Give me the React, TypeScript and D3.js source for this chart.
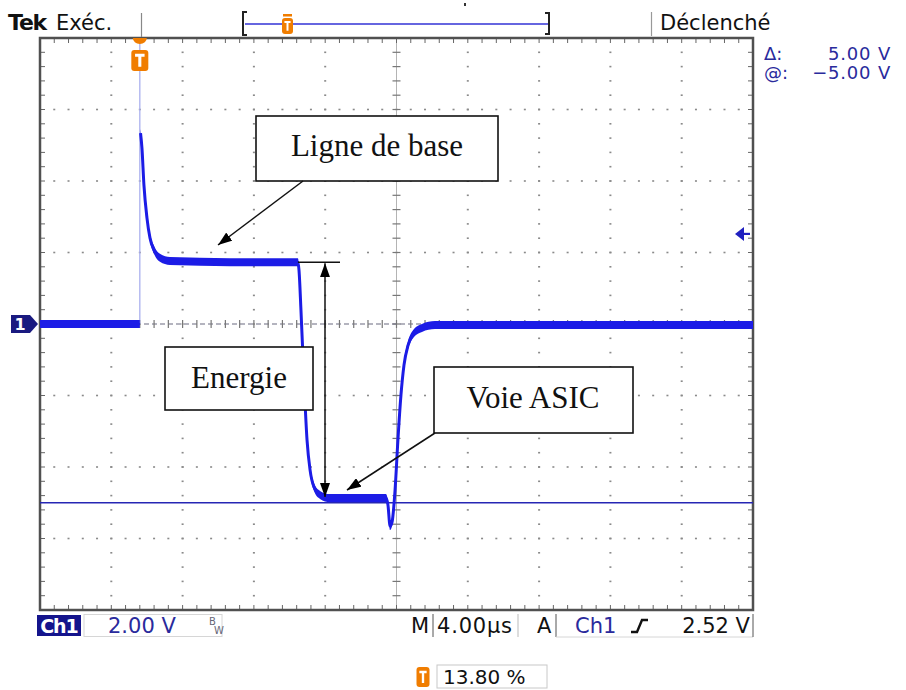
import React from "react";
import * as d3 from "d3";

// ---- data ----
const timeDomain = [0, 40]; // µs, 4 µs/div x 10 div
const voltDomain = [-8, 8]; // V, 2 V/div x 8 div
const triggerTime = 5.6;
const triggerLevel = 2.52;
const cursorVolts = -5.0;

const preTime = [0, 5.6];
const preVolts = [0, 0];

const pulseTime = [5.64, 5.72, 5.83, 6.0, 6.17, 6.4, 6.73, 7.29, 10.66, 14.47, 14.53, 14.64, 14.81, 14.98, 15.15, 15.37, 15.71, 16.27, 19.41, 19.52, 19.64, 19.75, 19.92, 20.08, 20.25, 20.42, 20.65, 20.98, 21.43, 22.16, 30, 40];
const pulseVolts = [5.34, 4.92, 3.89, 2.97, 2.41, 2.07, 1.85, 1.76, 1.73, 1.73, 1.51, 0.39, -1.57, -3.24, -4.08, -4.56, -4.78, -4.87, -4.87, -5.06, -5.65, -5.54, -4.64, -3.24, -1.99, -1.15, -0.59, -0.25, -0.11, -0.03, -0.03, -0.03];

const annotations = ["Ligne de base", "Energie", "Voie ASIC"];

// ---- layout ----
const W = 906, H = 690;
const L = 40, R = 753, T = 38, B = 610;
const TRACE = "#1c1ce6";
const DBLUE = "#2a2a9c";
const ORANGE = "#f07d00";
const SANS = "'DejaVu Sans', sans-serif";
const SERIF = "'Liberation Serif', 'Times New Roman', serif";

const x = d3.scaleLinear().domain(timeDomain).range([L, R]);
const y = d3.scaleLinear().domain(voltDomain).range([B, T]);

const xMinor = d3.range(0, 40.001, 0.8);
const yMinor = d3.range(-8, 8.001, 0.4);
const xMajor = d3.range(4, 37, 4);
const yMajor = d3.range(-6, 7, 2);

const zip = (ts: number[], vs: number[]) => ts.map((t, i) => [t, vs[i]] as [number, number]);
const pre = zip(preTime, preVolts);
const pulse = zip(pulseTime, pulseVolts);

const line = d3.line<[number, number]>().x(d => x(d[0])).y(d => y(d[1])).curve(d3.curveMonotoneX);
const band = d3.area<[number, number]>().x(d => x(d[0])).y0(d => y(d[1]) - 4).y1(d => y(d[1]) + 4).curve(d3.curveMonotoneX);

function TMarker({ cx, top, w = 16, h = 21 }: { cx: number; top: number; w?: number; h?: number }) {
  return (
    <g>
      <rect x={cx - w / 2} y={top} width={w} height={h} rx={3} fill={ORANGE} />
      <path d={`M${cx - w * 0.28},${top + h * 0.25} h${w * 0.56} M${cx},${top + h * 0.25} v${h * 0.55}`} stroke="#fff" strokeWidth={w * 0.18} fill="none" />
    </g>
  );
}

export default function App() {
  const zeroY = y(0);
  const tl = y(triggerLevel);
  return (
    <svg width={W} height={H} style={{ position: "absolute", left: 0, top: 0, background: "#fff" }}>
      <defs>
        <marker id="ah" viewBox="0 0 14 10" refX="14" refY="5" markerWidth="14" markerHeight="10" markerUnits="userSpaceOnUse" orient="auto-start-reverse">
          <path d="M0,0 L14,5 L0,10 Z" fill="#000" />
        </marker>
      </defs>
      <rect x={0} y={0} width={W} height={H} fill="#fff" />

      {/* graticule dots */}
      {xMajor.filter(v => v !== 20).map(v => (
        <g key={"vx" + v}>
          {yMinor.map(u => <rect key={u} x={x(v) - 1} y={y(u) - 0.8} width={2} height={1.6} fill="#8a8a8a" />)}
        </g>
      ))}
      {yMajor.filter(v => v !== 0).map(v => (
        <g key={"hy" + v}>
          {xMinor.map(u => <rect key={u} x={x(u) - 1} y={y(v) - 0.8} width={2} height={1.6} fill="#8a8a8a" />)}
        </g>
      ))}
      {/* center axes */}
      <line x1={x(20)} x2={x(20)} y1={T} y2={B} stroke="#b4b4b4" strokeWidth={1} />
      {yMinor.map(u => <line key={"cy" + u} x1={x(20) - 4} x2={x(20) + 4} y1={y(u)} y2={y(u)} stroke="#777" strokeWidth={1.2} />)}
      <line x1={L} x2={R} y1={zeroY} y2={zeroY} stroke="#6a6a80" strokeWidth={1.2} strokeDasharray="5,3" />
      {xMinor.map(u => <line key={"cx" + u} x1={x(u)} x2={x(u)} y1={zeroY - 4} y2={zeroY + 4} stroke="#777" strokeWidth={1.2} />)}
      {/* border ticks */}
      {xMinor.map(u => (
        <g key={"bt" + u}>
          <line x1={x(u)} x2={x(u)} y1={T} y2={T + 5} stroke="#666" strokeWidth={1} />
          <line x1={x(u)} x2={x(u)} y1={B - 5} y2={B} stroke="#666" strokeWidth={1} />
        </g>
      ))}
      {yMinor.map(u => (
        <g key={"bl" + u}>
          <line x1={L} x2={L + 5} y1={y(u)} y2={y(u)} stroke="#666" strokeWidth={1} />
          <line x1={R - 5} x2={R} y1={y(u)} y2={y(u)} stroke="#666" strokeWidth={1} />
        </g>
      ))}
      <rect x={L} y={T} width={R - L} height={B - T} fill="none" stroke="#505050" strokeWidth={2.5} />

      {/* cursor line */}
      <line x1={L} x2={R} y1={y(cursorVolts)} y2={y(cursorVolts)} stroke="#2626b4" strokeWidth={1.6} />

      {/* trigger position line (fast edge) */}
      <line x1={x(triggerTime)} x2={x(triggerTime)} y1={T} y2={zeroY} stroke="#aab0ee" strokeWidth={1.3} />

      {/* trace */}
      <path d={band(pre) || ""} fill={TRACE} />
      <path d={line(pre) || ""} fill="none" stroke={TRACE} strokeWidth={2} />
      <path d={band(pulse) || ""} fill={TRACE} />
      <path d={line(pulse) || ""} fill="none" stroke={TRACE} strokeWidth={3} />

      {/* trigger level arrow */}
      <path d={`M${R - 18},${tl} L${R - 9},${tl - 7} L${R - 9},${tl + 7} Z`} fill="#2020c0" />
      <line x1={R - 10} x2={R - 3} y1={tl} y2={tl} stroke="#2020c0" strokeWidth={2.2} />

      {/* ch1 ground marker */}
      <path d={`M11,${zeroY - 9} H30 L38,${zeroY} L30,${zeroY + 9} H11 Z`} fill="#1a1a80" />
      <text x={20} y={zeroY + 6} fill="#fff" fontFamily={SANS} fontWeight="bold" fontSize={16} textAnchor="middle">1</text>

      {/* trigger T marker at top */}
      <path d={`M${x(triggerTime) - 7},${T} A7,6 0 0 0 ${x(triggerTime) + 7},${T} Z`} fill={ORANGE} />
      <TMarker cx={x(triggerTime)} top={T + 12} w={17} h={21} />

      {/* header */}
      <text x={8} y={30} fontFamily={SANS} fontSize={22} fontWeight="bold" fill="#111" letterSpacing={-1.2}>Tek</text>
      <text x={56} y={30} fontFamily={SANS} fontSize={21} fill="#111">Exéc.</text>
      <line x1={141.5} x2={141.5} y1={13} y2={37} stroke="#888" strokeWidth={1.2} />
      <path d="M247,12 H243 V35 H247" fill="none" stroke="#222" strokeWidth={2} />
      <line x1={245} x2={548} y1={24} y2={24} stroke="#6666e0" strokeWidth={2.2} />
      <path d="M545,13 H549 V34 H545" fill="none" stroke="#222" strokeWidth={2} />
      <rect x={283} y={14} width={9} height={2.5} fill={ORANGE} />
      <TMarker cx={287.5} top={18} w={11} h={16} />
      <rect x={464} y={3} width={2} height={3} fill="#333" />
      <line x1={651.5} x2={651.5} y1={12} y2={36} stroke="#999" strokeWidth={1.2} />
      <text x={660} y={30} fontFamily={SANS} fontSize={21} fill="#111">Déclenché</text>

      <text x={764} y={60} fontFamily={SANS} fontSize={18} fill={DBLUE}>Δ:</text>
      <text x={891} y={60} fontFamily={SANS} fontSize={18} fill={DBLUE} textAnchor="end" letterSpacing={0.8}>5.00 V</text>
      <text x={764} y={79} fontFamily={SANS} fontSize={18} fill={DBLUE}>@:</text>
      <text x={891} y={79} fontFamily={SANS} fontSize={18} fill={DBLUE} textAnchor="end" letterSpacing={0.8}>−5.00 V</text>

      {/* status bar */}
      <rect x={37} y={615} width={44} height={21} fill="#14148c" />
      <text x={59} y={633} fontFamily={SANS} fontSize={19} fontWeight="bold" fill="#fff" textAnchor="middle" letterSpacing={-1}>Ch1</text>
      <rect x={84} y={614.5} width={138} height={22} fill="none" stroke="#d6d6d6" strokeWidth={1} />
      <text x={108} y={633} fontFamily={SANS} fontSize={21} fill={DBLUE}>2.00 V</text>
      <text x={209} y={625} fontFamily={SANS} fontSize={10} fill="#667">B</text>
      <text x={214} y={634} fontFamily={SANS} fontSize={10} fill="#667">W</text>
      <text x={411} y={633} fontFamily={SANS} fontSize={21} fill="#111">M</text>
      <line x1={433} x2={433} y1={614} y2={637} stroke="#555" strokeWidth={1} />
      <text x={437} y={633} fontFamily={SANS} fontSize={21} fill="#111" letterSpacing={0.8}>4.00µs</text>
      <line x1={518} x2={518} y1={614} y2={637} stroke="#bbb" strokeWidth={1} />
      <text x={537} y={633} fontFamily={SANS} fontSize={21} fill="#111">A</text>
      <line x1={556} x2={556} y1={614} y2={637} stroke="#555" strokeWidth={1} />
      <line x1={556} x2={753} y1={637} y2={637} stroke="#d6d6d6" strokeWidth={1} />
      <text x={575} y={633} fontFamily={SANS} fontSize={21} fill={DBLUE}>Ch1</text>
      <path d="M631,632 H637 L642,620 H648" fill="none" stroke="#111" strokeWidth={2.4} />
      <text x={750} y={633} fontFamily={SANS} fontSize={21} fill="#111" textAnchor="end">2.52 V</text>
      <line x1={753} x2={753} y1={614} y2={637} stroke="#555" strokeWidth={1} />

      <TMarker cx={423} top={667} w={13} h={20} />
      <rect x={437} y={665} width={110} height={23} fill="none" stroke="#c8c8c8" strokeWidth={1} />
      <text x={443} y={684} fontFamily={SANS} fontSize={20} fill="#111">13.80 %</text>

      {/* annotations */}
      <rect x={256} y={116} width={242} height={65} fill="#fff" stroke="#111" strokeWidth={1.6} />
      <text x={377} y={156} fontFamily={SERIF} fontSize={31} fill="#111" textAnchor="middle">{annotations[0]}</text>
      <line x1={303} x2={218} y1={181} y2={245} stroke="#111" strokeWidth={1.5} markerEnd="url(#ah)" />

      <rect x={165} y={347} width={148} height={63} fill="#fff" stroke="#111" strokeWidth={1.6} />
      <text x={239} y={388} fontFamily={SERIF} fontSize={31} fill="#111" textAnchor="middle">{annotations[1]}</text>

      <rect x={434} y={367} width={199} height={66} fill="#fff" stroke="#111" strokeWidth={1.6} />
      <text x={533} y={408} fontFamily={SERIF} fontSize={31} fill="#111" textAnchor="middle">{annotations[2]}</text>
      <line x1={435} x2={347} y1={433} y2={490} stroke="#111" strokeWidth={1.5} markerEnd="url(#ah)" />

      <line x1={x(14.47)} x2={340} y1={y(1.73)} y2={y(1.73)} stroke="#111" strokeWidth={1.5} />
      <line x1={325} x2={325} y1={y(1.73) + 1} y2={y(-4.87) - 1} stroke="#111" strokeWidth={1.5} markerStart="url(#ah)" markerEnd="url(#ah)" />
    </svg>
  );
}
